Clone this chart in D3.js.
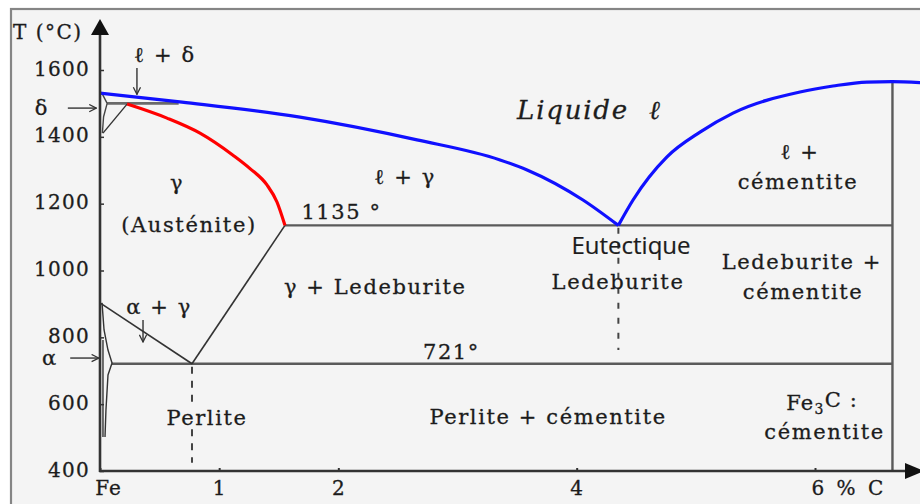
<!DOCTYPE html>
<html><head><meta charset="utf-8">
<script src="https://cdn.jsdelivr.net/npm/d3@7/dist/d3.min.js"></script>
<style>
html,body{margin:0;padding:0;background:#fff;overflow:hidden;}
svg{display:block;}
text{font-family:"DejaVu Serif",serif;fill:#1c1c1c;stroke:#1c1c1c;stroke-width:0.3px;}
</style></head><body>
<svg id="chart" width="920" height="504"></svg>
<script>
// ---- data (composition %C, temperature °C) ----
const yTicks = [400, 600, 800, 1000, 1200, 1400, 1600];
const xTicks = [0, 1, 2, 4, 6];
const xTickLabels = ["Fe", "1", "2", "4", "6 % C"];

const liquidusLeft = [[0,1531],[0.688,1504],[1.678,1459],[2.66,1391],[3.357,1331],[3.584,1301],[4.053,1211],[4.35,1135]];
const liquidusRight = [[4.35,1135],[4.473,1211],[4.758,1340],[5.035,1414],[5.312,1471],[5.874,1534],[6.151,1552],[6.436,1564],[6.646,1565],[6.9,1562]];
const solidusGamma = [[0.227,1498],[0.562,1456],[0.839,1411],[1.116,1345],[1.259,1305],[1.401,1256],[1.485,1205],[1.552,1135]];
const peritecticLine = [[0.06,1500],[0.66,1500]];
const deltaGammaLine = [[0.025,1411],[0.227,1498]];
const deltaCurve = [[0.02,1528],[0.06,1500],[0.03,1460],[0.02,1411]];
const a3Line = [[0,903],[0.772,721]];
const acmLine = [[0.772,721],[1.552,1135]];
const eutecticLine = [[1.552,1135],[6.65,1135]];
const eutectoidLine = [[0.1,721],[6.65,721]];
const cementiteLine = [[6.65,400],[6.65,1565]];
const alphaCurve = [[0.017,903],[0.034,822],[0.067,762],[0.101,723],[0.067,687],[0.05,583],[0.042,502]];
const alphaLine2 = [[0.025,792],[0.025,502]];
const eutecticDash = [[4.35,1128],[4.35,762]];
const eutectoidDashTop = [[0.772,712],[0.772,595]];
const eutectoidDashBottom = [[0.772,525],[0.772,425]];

// labels: text, %C, T, anchor
const labelText = ["ℓ + δ","ℓ + γ","1135 °","γ","(Austénite)","ℓ +","cémentite","Ledeburite","γ + Ledeburite","Ledeburite +","cémentite","α + γ","721°","Perlite","Perlite + cémentite","cémentite","δ","α"];
const labelC    = [0.545, 2.56, 1.69, 0.646, 0.747, 5.874, 5.857, 4.347, 2.31, 5.89, 5.9, 0.495, 2.71, 0.898, 3.76, 6.08, -0.487, -0.42];
const labelT    = [1645, 1280, 1175, 1262, 1136, 1355, 1265, 966, 951, 1025, 936, 891, 756, 559, 562, 517, 1486, 738];
const labelAnchor = ["middle","middle","start","middle","middle","middle","middle","middle","middle","middle","middle","middle","start","middle","middle","middle","middle","middle"];

// arrows: [from, to] in (%C, T)
const arrows = [
  [[0.31,1606],[0.31,1527]],
  [[-0.27,1486],[-0.03,1486]],
  [[0.361,852],[0.361,786]],
  [[-0.25,738],[-0.01,738]]
];

// ---- scales ----
const svg = d3.select("#chart");
const x = d3.scaleLinear().domain([0, 6]).range([100, 815]);
const y = d3.scaleLinear().domain([400, 1600]).range([471, 70]);

// frame
svg.append("rect").attr("x", 11).attr("y", 9).attr("width", 930).attr("height", 520)
  .attr("fill", "#f4f4f4").attr("stroke", "#858585").attr("stroke-width", 2.2);

const defs = svg.append("defs");
defs.append("marker").attr("id", "openarrow").attr("viewBox", "0 0 10 10")
  .attr("refX", 9).attr("refY", 5).attr("markerWidth", 9).attr("markerHeight", 9)
  .attr("markerUnits", "userSpaceOnUse").attr("orient", "auto")
  .append("path").attr("d", "M1,1 L9,5 L1,9").attr("fill", "none").attr("stroke", "#333").attr("stroke-width", 1.4);

const line = d3.line().x(d => x(d[0])).y(d => y(d[1]));
const curve = d3.line().x(d => x(d[0])).y(d => y(d[1])).curve(d3.curveMonotoneX);

function draw(data, gen, color, width, dash) {
  const p = svg.append("path").datum(data).attr("d", gen).attr("fill", "none")
    .attr("stroke", color).attr("stroke-width", width).attr("stroke-linejoin", "round");
  if (dash) p.attr("stroke-dasharray", dash);
  return p;
}

// dashed verticals
draw(eutecticDash, line, "#444", 2, "6,9");
draw(eutectoidDashTop, line, "#444", 2, "7,7");
draw(eutectoidDashBottom, line, "#444", 2, "7,7");

// phase boundaries
draw(eutecticLine, line, "#5a5a5a", 2.4);
draw(eutectoidLine, line, "#5a5a5a", 2.4);
draw(cementiteLine, line, "#5a5a5a", 2.4);
draw(a3Line, line, "#333", 1.6);
draw(acmLine, line, "#333", 1.6);
draw(peritecticLine, line, "#6a6a6a", 2.6);
draw(deltaGammaLine, line, "#333", 1.4);
draw(deltaCurve, line, "#444", 1.4);
draw(alphaCurve, line, "#333", 1.4);
draw(alphaLine2, line, "#333", 1.4);

draw(solidusGamma, curve, "#ff0000", 3.2);
draw(liquidusLeft, curve, "#1010ff", 3.2);
draw(liquidusRight, curve, "#1010ff", 3.2);

// axes
const yAxis = d3.axisLeft(y).tickValues(yTicks).tickSizeInner(-4).tickSizeOuter(0).tickPadding(10).tickFormat(d3.format("d"));
const gy = svg.append("g").attr("transform", `translate(${x(0)},0)`).call(yAxis);
gy.select(".domain").remove();
gy.selectAll(".tick line").attr("stroke", "#333").attr("stroke-width", 1.5);
gy.selectAll(".tick text").attr("font-size", 20).attr("letter-spacing", 1.3).attr("dy", "0.25em")
  .attr("fill", "#1c1c1c").style("font-family", "DejaVu Serif");

const xAxis = d3.axisBottom(x).tickValues(xTicks).tickSizeInner(-3).tickSizeOuter(0).tickPadding(10)
  .tickFormat((d, i) => xTickLabels[i]);
const gx = svg.append("g").attr("transform", `translate(0,${y(400)})`).call(xAxis);
gx.select(".domain").remove();
gx.selectAll(".tick line").attr("stroke", "#333").attr("stroke-width", 2);
gx.selectAll(".tick text").attr("font-size", 20).attr("letter-spacing", 1)
  .attr("fill", "#1c1c1c").style("font-family", "DejaVu Serif");
gx.selectAll(".tick text").filter((d) => d === 0).attr("x", 8);
gx.selectAll(".tick text").filter((d) => d === 6).attr("text-anchor", "start").attr("x", -4).attr("word-spacing", 4);

// axis lines with arrowheads
svg.append("line").attr("x1", x(0)).attr("x2", x(0)).attr("y1", y(400) + 1).attr("y2", 34)
  .attr("stroke", "#333").attr("stroke-width", 2.6);
svg.append("path").attr("d", `M${x(0)},19 L${x(0) + 9},35 L${x(0) - 9},35 Z`).attr("fill", "#111");
svg.append("line").attr("x1", x(0) - 1).attr("x2", 906).attr("y1", y(400)).attr("y2", y(400))
  .attr("stroke", "#333").attr("stroke-width", 2.6);
svg.append("path").attr("d", `M924,${y(400)} L905,${y(400) - 8} L905,${y(400) + 8} Z`).attr("fill", "#111");

// axis title
svg.append("text").attr("x", 13).attr("y", 39).attr("font-size", 20).attr("letter-spacing", 1.5).text("T (°C)");

// arrows
arrows.forEach(a => {
  svg.append("line").attr("x1", x(a[0][0])).attr("y1", y(a[0][1])).attr("x2", x(a[1][0])).attr("y2", y(a[1][1]))
    .attr("stroke", "#333").attr("stroke-width", 1.4).attr("marker-end", "url(#openarrow)");
});

// region labels
labelText.forEach((t, i) => {
  svg.append("text").attr("x", x(labelC[i])).attr("y", y(labelT[i]))
    .attr("dy", "0.35em").attr("text-anchor", labelAnchor[i])
    .attr("font-size", 21).attr("letter-spacing", 1.6).text(t);
});

// Liquide ℓ (italic)
svg.append("text").attr("x", x(3.5)).attr("y", y(1480)).attr("dy", "0.35em")
  .attr("font-size", 26).attr("font-style", "italic").attr("letter-spacing", 1.8)
  .attr("xml:space", "preserve").text("Liquide  ℓ");

// Eutectique (sans)
svg.append("text").attr("x", x(4.456)).attr("y", y(1076)).attr("dy", "0.35em").attr("text-anchor", "middle")
  .style("font-family", "'Open Sans', 'Liberation Sans', sans-serif").style("stroke-width", "0.2px")
  .attr("font-size", 24).text("Eutectique");

// Fe3C :
const fe = svg.append("text").attr("x", x(6.06)).attr("y", y(606)).attr("dy", "0.35em").attr("text-anchor", "middle")
  .attr("font-size", 21).attr("letter-spacing", 1.2);
fe.append("tspan").text("Fe");
fe.append("tspan").attr("font-size", 14).attr("dy", "0.3em").text("3");
fe.append("tspan").attr("dy", "-0.3em").text("C :");
</script>
</body></html>
